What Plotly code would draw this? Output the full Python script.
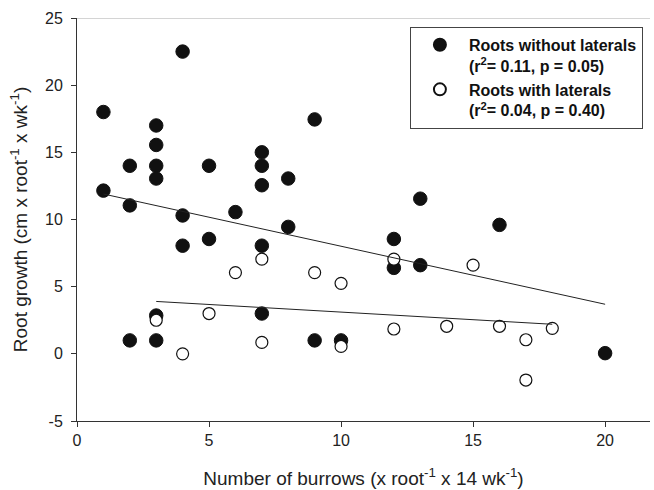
import plotly.graph_objects as go
import numpy as np

# Roots without laterals (filled circles)
x_without = [1, 1, 2, 2, 2, 3, 3, 3, 3, 3, 3, 4, 4, 4, 5, 5, 6, 7, 7, 7, 7, 7,
             8, 8, 9, 9, 10, 12, 12, 13, 13, 16, 20]
y_without = [18.0, 12.15, 14.0, 11.05, 1.0, 17.0, 15.55, 14.0, 13.05, 2.85, 1.0,
             22.5, 10.3, 8.05, 14.0, 8.55, 10.55, 15.0, 14.0, 12.55, 8.05, 3.0,
             13.05, 9.45, 17.45, 1.0, 1.0, 8.55, 6.4, 11.55, 6.6, 9.6, 0.05]

# Roots with laterals (open circles)
x_with = [3, 4, 5, 6, 7, 7, 9, 10, 10, 12, 12, 14, 15, 16, 17, 17, 18]
y_with = [2.5, 0.0, 3.0, 6.05, 7.05, 0.85, 6.05, 5.25, 0.55, 7.05, 1.85,
          2.05, 6.6, 2.05, 1.05, -1.95, 1.9]

# Regression lines (intercept, slope)
fit_without = (12.33, -0.432)
fit_with = (4.24, -0.1133)

name_without = "Roots without laterals<br>(r<sup>2</sup>= 0.11, p = 0.05)"
name_with = "Roots with laterals<br>(r<sup>2</sup>= 0.04, p = 0.40)"

x_ticks = [0, 5, 10, 15, 20]
y_ticks = [-5, 0, 5, 10, 15, 20, 25]

FONT = "Liberation Sans, Arial, sans-serif"

fig = go.Figure()

fig.add_trace(go.Scatter(
    x=x_without, y=y_without, mode="markers", name=name_without,
    marker=dict(size=13.5, color="#111111", line=dict(color="#111111", width=1)),
))
fig.add_trace(go.Scatter(
    x=x_with, y=y_with, mode="markers", name=name_with,
    marker=dict(size=12, color="white", line=dict(color="#111111", width=1.2)),
))

for (b0, b1), xs in ((fit_without, x_without), (fit_with, x_with)):
    xl = np.array([min(xs), max(xs)], dtype=float)
    fig.add_trace(go.Scatter(
        x=xl, y=b0 + b1 * xl, mode="lines", showlegend=False,
        line=dict(color="#222222", width=1), hoverinfo="skip",
    ))

# Faint top frame line
fig.add_shape(type="line", xref="paper", yref="y", x0=0, x1=1, y0=25, y1=25,
              line=dict(color="#aaaaaa", width=1))

fig.update_layout(
    width=654, height=490,
    margin=dict(l=77, r=4, t=18, b=69),
    paper_bgcolor="white", plot_bgcolor="white",
    font=dict(family=FONT, size=16, color="#222222"),
    showlegend=True,
    legend=dict(
        x=0.581, y=0.978, xanchor="left", yanchor="top",
        bordercolor="#444444", borderwidth=1, bgcolor="white",
        font=dict(family=FONT, size=16, color="#111111", weight="bold"),
        valign="top", tracegroupgap=2,
        itemsizing="constant", itemwidth=48,
        entrywidth=222, entrywidthmode="pixels",
    ),
    xaxis=dict(
        range=[0, 21.7], tickvals=x_ticks, ticktext=[str(v) for v in x_ticks],
        showgrid=False, zeroline=False, showline=True, linecolor="#333333",
        linewidth=1, ticks="outside", ticklen=5, tickcolor="#333333",
        tickfont=dict(size=16), ticklabelstandoff=0,
        title=dict(text="Number of burrows (x root<sup>-1</sup> x 14 wk<sup>-1</sup>)",
                   font=dict(size=19), standoff=23),
    ),
    yaxis=dict(
        range=[-5, 25], tickvals=y_ticks, ticktext=[str(v) for v in y_ticks],
        showgrid=False, zeroline=False, showline=True, linecolor="#333333",
        linewidth=1, ticks="outside", ticklen=5, tickcolor="#333333",
        tickfont=dict(size=16), ticklabelstandoff=5,
        title=dict(text="Root growth (cm x root<sup>-1</sup> x wk<sup>-1</sup>)",
                   font=dict(size=19), standoff=12),
    ),
)

fig.write_html("out.html")
